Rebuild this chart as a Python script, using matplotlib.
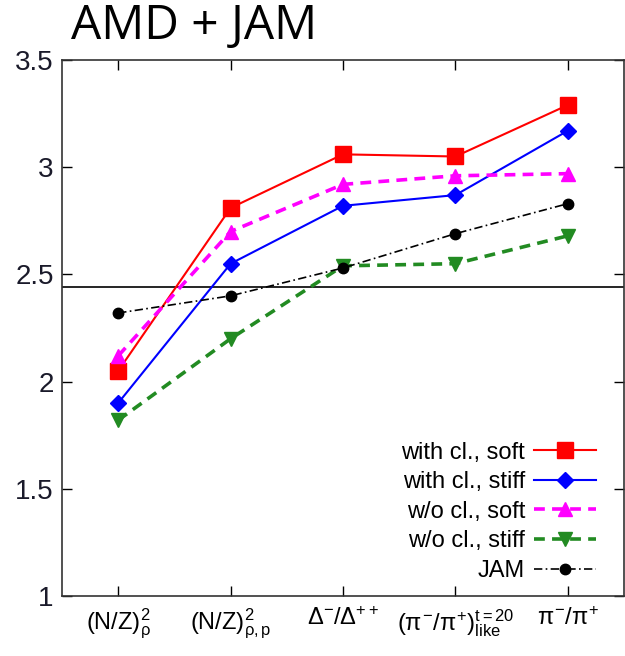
import matplotlib
matplotlib.use("Agg")
import matplotlib.pyplot as plt

categories = [r"(N/Z)$^{2}_{\rho}$", r"(N/Z)$^{2}_{\rho,p}$", r"$\Delta^{-}/\Delta^{++}$",
              r"($\pi^{-}/\pi^{+}$)$^{t=20}_{like}$", r"$\pi^{-}/\pi^{+}$"]
x = [1, 2, 3, 4, 5]
with_cl_soft = [2.05, 2.81, 3.06, 3.05, 3.29]
with_cl_stiff = [1.90, 2.55, 2.82, 2.87, 3.17]
wo_cl_soft = [2.12, 2.70, 2.92, 2.96, 2.97]
wo_cl_stiff = [1.82, 2.20, 2.54, 2.55, 2.68]
jam = [2.32, 2.40, 2.53, 2.69, 2.83]
ref_level = 2.44
yticks = [1, 1.5, 2, 2.5, 3, 3.5]
ytick_labels = ["1", "1.5", "2", "2.5", "3", "3.5"]

plt.rcParams['font.family'] = ['Liberation Sans', 'DejaVu Sans']
plt.rcParams['mathtext.fontset'] = 'custom'
plt.rcParams['mathtext.rm'] = 'Liberation Sans'
plt.rcParams['mathtext.it'] = 'Liberation Sans'
plt.rcParams['mathtext.bf'] = 'Liberation Sans:bold'

fig = plt.figure(figsize=(6.25, 6.56), dpi=100)
ax = fig.add_axes([0.0992, 0.0915, 0.8992, 0.817])

ax.plot(x, with_cl_soft, color='#ff0000', lw=1.5, ls='-', marker='s', ms=11, label='with cl., soft')
ax.plot(x, with_cl_stiff, color='#0000ff', lw=1.5, ls='-', marker='D', ms=8.5, label='with cl., stiff')
ax.plot(x, wo_cl_soft, color='#ff00ff', lw=2.6, ls=(0, (3, 2)), marker='^', ms=10, label='w/o cl., soft')
ax.plot(x, wo_cl_stiff, color='#228b22', lw=2.6, ls=(0, (3, 2)), marker='v', ms=10, label='w/o cl., stiff')
ax.plot(x, jam, color='black', lw=1.2, ls=(0, (5, 2, 1, 2)), marker='o', ms=7.5, label='JAM')
ax.axhline(ref_level, color='black', lw=1.2, zorder=1)

ax.set_xlim(0.5, 5.5)
ax.set_ylim(1, 3.5)
ax.set_xticks(x)
ax.set_xticklabels(categories, fontsize=17)
ax.set_yticks(yticks)
ax.set_yticklabels(ytick_labels, fontsize=20, color='#1a1a2a')
ax.tick_params(direction='in', top=True, right=True, length=7, width=1.0, pad=8)
ax.tick_params(axis='y', pad=6)
for s in ax.spines.values():
    s.set_linewidth(1.2)
    s.set_color('#333333')

leg = ax.legend(loc='lower right', frameon=False, markerfirst=False, fontsize=17,
                handlelength=2.6, labelspacing=0.32, handletextpad=0.4,
                borderaxespad=0.2, bbox_to_anchor=(0.975, 0.0))

fig.text(0.113, 0.940, "AMD + JAM", fontsize=34.5, family=['Open Sans', 'DejaVu Sans'],
         ha='left', va='baseline')

fig.savefig("out.png", dpi=100)
